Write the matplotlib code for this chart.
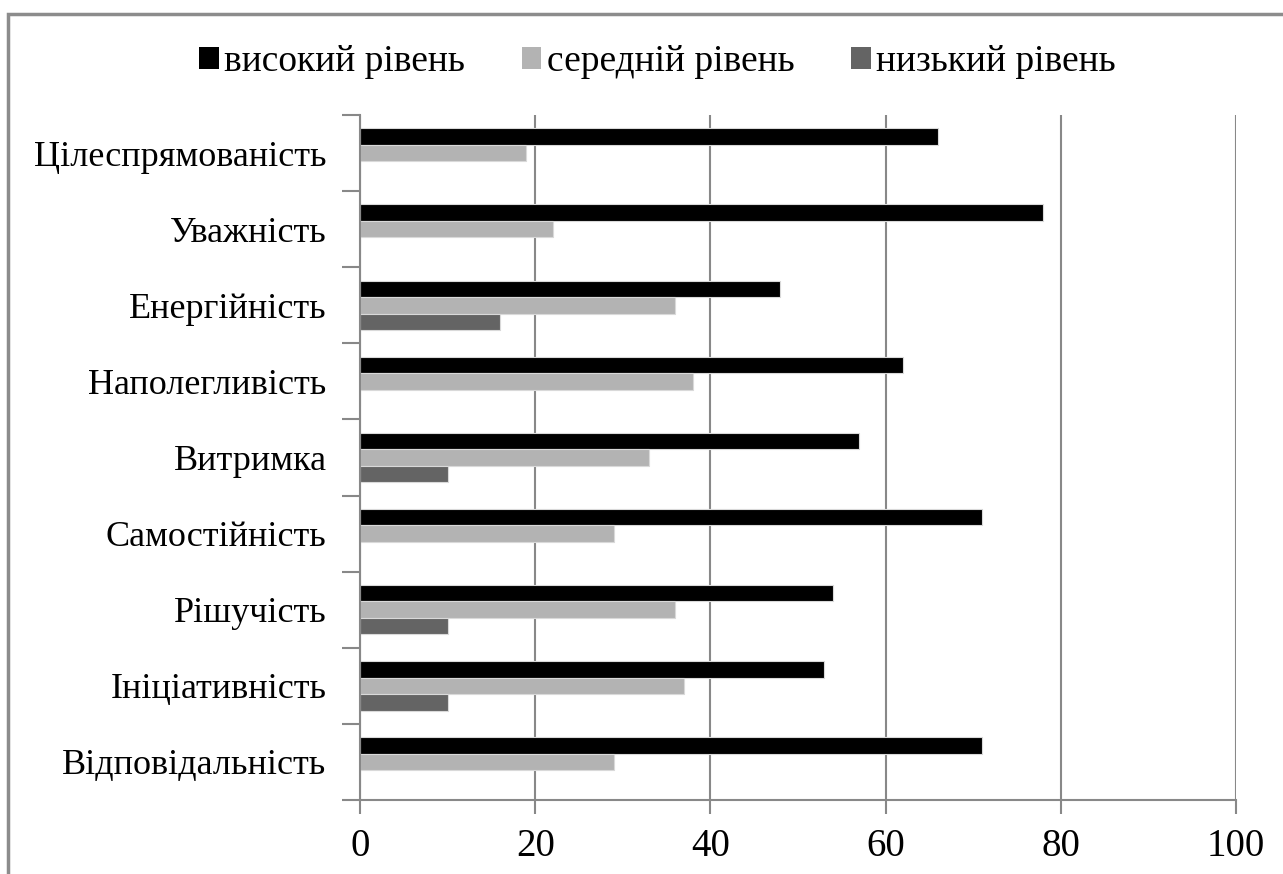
import numpy as np
import matplotlib.pyplot as plt
from matplotlib.patches import Rectangle, Patch

# Якості (зверху вниз) і частка досліджуваних за рівнями, %
qualities = ["Цілеспрямованість", "Уважність", "Енергійність", "Наполегливість",
             "Витримка", "Самостійність", "Рішучість", "Ініціативність",
             "Відповідальність"]
high = [66, 78, 48, 62, 57, 71, 54, 53, 71]
mid = [19, 22, 36, 38, 33, 29, 36, 37, 29]
low = [0, 0, 16, 0, 10, 0, 10, 10, 0]

series_names = ["високий рівень", "середній рівень", "низький рівень"]
colors = ["#000000", "#b3b3b3", "#646464"]

plt.rcParams["font.family"] = ["Liberation Serif", "DejaVu Serif"]

W, H = 1283, 874
fig = plt.figure(figsize=(W / 100, H / 100), dpi=100)
ax = fig.add_axes([360 / W, 1 - 800 / H, (1236 - 360) / W, (800 - 115) / H])

y = np.arange(len(qualities))
h = 0.217
for k, (vals, c) in enumerate(zip([high, mid, low], colors)):
    ax.barh(y + (k - 1) * h, vals, height=h, color=c,
            edgecolor="#d9d9d9", linewidth=0.8, zorder=3)

ax.set_xlim(0, 100)
ax.set_ylim(len(qualities) - 0.5, -0.5)
ax.set_xticks(np.arange(0, 101, 20))
ax.tick_params(axis="x", length=10, width=1.5, color="#888888",
               labelsize=28, pad=10)

# підписи по центру категорій, риски - на межах
ax.set_yticks(y)
ax.set_yticklabels(qualities, fontsize=26)
ax.tick_params(axis="y", length=0, pad=24)
ax.set_yticks(np.arange(len(qualities) + 1) - 0.5, minor=True)
ax.tick_params(axis="y", which="minor", length=13, width=1.5, color="#888888")

ax.grid(axis="x", color="#888888", linewidth=1.5, zorder=0)
for s in ["top", "right"]:
    ax.spines[s].set_visible(False)
for s in ["left", "bottom"]:
    ax.spines[s].set_color("#888888")
    ax.spines[s].set_linewidth(1.5)
    ax.spines[s].set_zorder(4)

handles = [Patch(facecolor=c, edgecolor="none") for c in colors]
fig.legend(handles, series_names, loc="center", bbox_to_anchor=(0.5125, 1 - 62 / H),
           ncol=3, frameon=False, fontsize=27, handlelength=0.53, handleheight=0.5,
           handletextpad=0.15, columnspacing=1.5)

# рамка навколо діаграми
fig.patches.append(Rectangle((8 / W, -0.1), 1.2, 1 - 14 / H + 0.1,
                             transform=fig.transFigure, fill=False,
                             edgecolor="#8c8c8c", linewidth=2.5))

fig.savefig("out.png", dpi=100)
